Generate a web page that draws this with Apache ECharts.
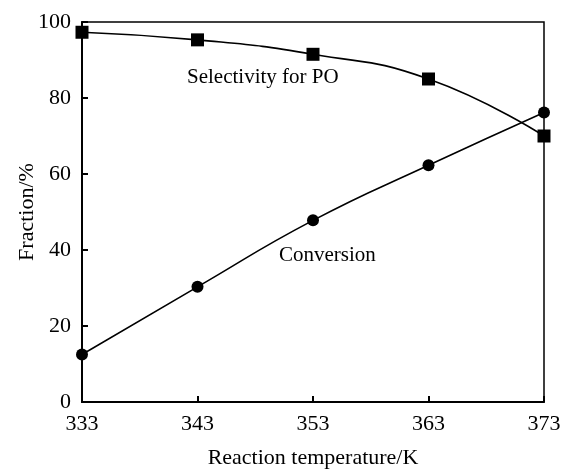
<!DOCTYPE html>
<html><head><meta charset="utf-8">
<script src="https://cdn.jsdelivr.net/npm/echarts@6/dist/echarts.min.js"></script>
<style>html,body{margin:0;padding:0;background:#fff}#c{width:561px;height:469px}</style>
</head><body><div id="c"></div>
<script>
var categories = ['333', '343', '353', '363', '373'];
var selectivity = [97.3, 95.3, 91.5, 85.0, 70.0];
var conversion = [12.5, 30.3, 47.8, 62.3, 76.2];
var yTicks = [0, 20, 40, 60, 80, 100];

var font = 'Liberation Serif';
var chart = echarts.init(document.getElementById('c'));
chart.setOption({
  animation: false,
  backgroundColor: '#fff',
  grid: {left: 82, right: 17, top: 22, bottom: 67, containLabel: false,
         outerBoundsMode: 'none',
         show: true, borderColor: '#000', borderWidth: 1.5},
  xAxis: {
    type: 'category', data: categories, boundaryGap: false,
    name: 'Reaction temperature/K', nameLocation: 'middle', nameGap: 45,
    nameMoveOverlap: false,
    nameTextStyle: {fontFamily: font, fontSize: 22, color: '#000'},
    axisLine: {lineStyle: {color: '#000', width: 2}},
    axisTick: {inside: true, length: 6, lineStyle: {color: '#000', width: 2}},
    axisLabel: {fontFamily: font, fontSize: 22, color: '#000', margin: 11},
    splitLine: {show: false}
  },
  yAxis: {
    type: 'value', min: 0, max: 100, interval: 20,
    name: 'Fraction/%', nameLocation: 'middle', nameGap: 44,
    nameMoveOverlap: false,
    nameTextStyle: {fontFamily: font, fontSize: 22, color: '#000'},
    axisLine: {show: true, lineStyle: {color: '#000', width: 2}},
    axisTick: {show: true, inside: true, length: 6, lineStyle: {color: '#000', width: 2}},
    axisLabel: {fontFamily: font, fontSize: 22, color: '#000', margin: 11,
      formatter: function (v) { return yTicks.indexOf(v) >= 0 ? String(v) : ''; }},
    splitLine: {show: false}
  },
  series: [{
    name: 'Selectivity for PO', type: 'line', data: selectivity, smooth: true,
    symbol: 'rect', symbolSize: 13,
    lineStyle: {color: '#000', width: 1.6},
    itemStyle: {color: '#000'}
  }, {
    name: 'Conversion', type: 'line', data: conversion, smooth: true,
    symbol: 'circle', symbolSize: 12,
    lineStyle: {color: '#000', width: 1.6},
    itemStyle: {color: '#000'}
  }],
  graphic: [{
    type: 'text', x: 187, y: 77,
    style: {text: 'Selectivity for PO', fontFamily: font, fontSize: 21, fill: '#000', verticalAlign: 'middle'}
  }, {
    type: 'text', x: 279, y: 255,
    style: {text: 'Conversion', fontFamily: font, fontSize: 21, fill: '#000', verticalAlign: 'middle'}
  }]
});
</script></body></html>
